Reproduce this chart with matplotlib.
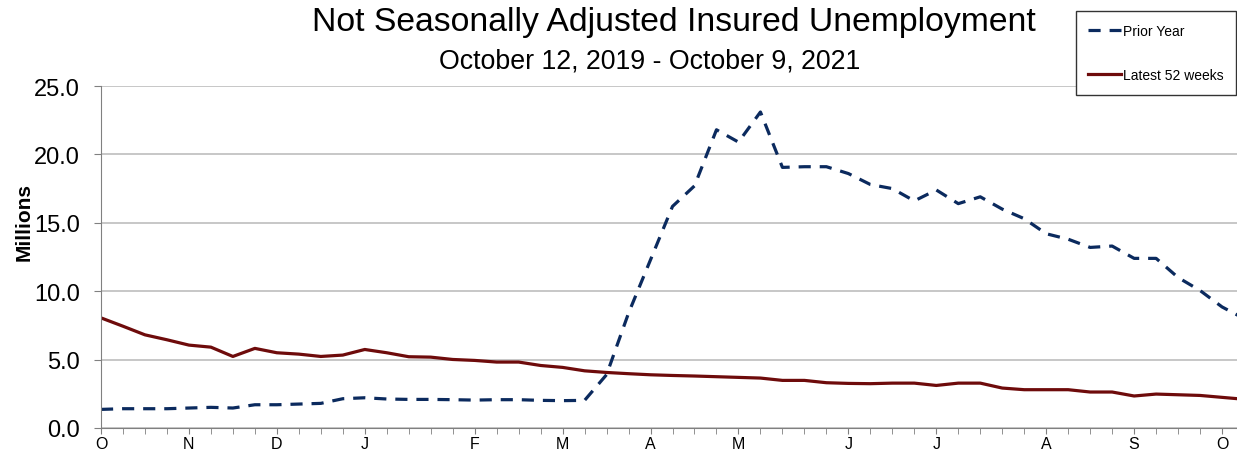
import numpy as np
import matplotlib
matplotlib.use('Agg')
import matplotlib.pyplot as plt

plt.rcParams['font.family'] = ['Liberation Sans', 'DejaVu Sans']

# weekly values, millions (week 0 = mid October)
prior_year = [1.36, 1.41, 1.41, 1.41, 1.46, 1.51, 1.46, 1.70, 1.70, 1.75,
              1.80, 2.14, 2.21, 2.12, 2.09, 2.09, 2.07, 2.04, 2.07, 2.07,
              2.02, 2.00, 2.02, 3.90, 8.40, 12.3, 16.2, 17.7, 21.8, 20.9,
              23.1, 19.05, 19.1, 19.1, 18.6, 17.8, 17.5, 16.6, 17.4, 16.4,
              16.9, 16.0, 15.3, 14.2, 13.8, 13.2, 13.3, 12.4, 12.4, 11.0,
              10.05, 8.85, 8.0]
latest_52 = [8.05, 7.44, 6.81, 6.45, 6.06, 5.91, 5.23, 5.82, 5.50, 5.40,
             5.23, 5.33, 5.74, 5.50, 5.21, 5.18, 5.01, 4.94, 4.82, 4.82,
             4.57, 4.43, 4.18, 4.06, 3.97, 3.89, 3.84, 3.80, 3.75, 3.70,
             3.65, 3.48, 3.48, 3.31, 3.26, 3.24, 3.28, 3.28, 3.11, 3.28,
             3.28, 2.92, 2.80, 2.80, 2.80, 2.63, 2.63, 2.34, 2.48, 2.43,
             2.38, 2.24, 2.10]
month_weeks = [0, 4, 8, 12, 17, 21, 25, 29, 34, 38, 43, 47, 51]
month_labels = ['O', 'N', 'D', 'J', 'F', 'M', 'A', 'M', 'J', 'J', 'A', 'S', 'O']
y_ticks = [0, 5, 10, 15, 20, 25]

W, H = 1237, 452
fig = plt.figure(figsize=(W / 100, H / 100), dpi=100)
ax = fig.add_axes([101 / W, 23 / H, 1136 / W, 342 / H])

weeks = np.arange(len(prior_year))
lp, = ax.plot(weeks, prior_year, color='#0b2a5e', lw=2.3, label='Prior Year')
lp.set_dashes([3.8, 2.8])
ax.plot(weeks, latest_52, color='#6e0b0b', lw=2.3, label='Latest 52 weeks')

ax.set_xlim(0, 51.68)
ax.set_ylim(0, 25)
ax.set_yticks(y_ticks)
ax.set_yticklabels(['%.1f' % v for v in y_ticks], fontsize=17)
ax.set_xticks(month_weeks)
ax.set_xticklabels(month_labels, fontsize=11.5)
ax.set_xticks(np.arange(0, 52), minor=True)
ax.tick_params(axis='y', length=5, color='#808080', pad=10)
ax.tick_params(axis='x', which='both', length=4, color='#808080', pad=2)

ax.grid(axis='y', color='#bdbdbd', lw=1.2)
ax.set_axisbelow(True)
for s in ['top', 'right']:
    ax.spines[s].set_visible(False)
for s in ['left', 'bottom']:
    ax.spines[s].set_color('#808080')
ax.spines['bottom'].set_zorder(5)

fig.text(24 / W, 1 - 222 / H, 'Millions', rotation=90, fontsize=15,
         fontweight='bold', ha='center', va='center')
fig.text(674 / W, 1 - 22 / H, 'Not Seasonally Adjusted Insured Unemployment',
         fontsize=24.3, ha='center', va='center')
fig.text(650 / W, 1 - 62 / H, 'October 12, 2019 - October 9, 2021',
         fontsize=19.3, ha='center', va='center')

leg = ax.legend(loc='upper right', bbox_to_anchor=(1236 / W, 1 - 12 / H),
                bbox_transform=fig.transFigure, borderaxespad=0, fontsize=10,
                handlelength=2.4, handletextpad=0.1, labelspacing=2.2,
                borderpad=0.9, fancybox=False, framealpha=1)
leg.get_frame().set_edgecolor('#333333')
leg.get_frame().set_linewidth(1.0)

fig.savefig('out.png', dpi=100)
